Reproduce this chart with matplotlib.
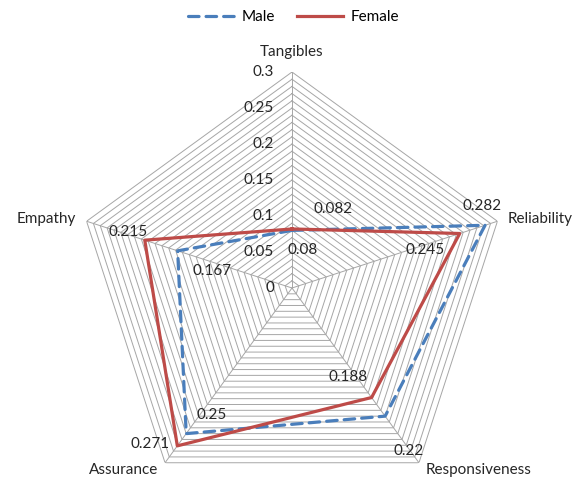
import numpy as np
import matplotlib
matplotlib.use("Agg")
import matplotlib.pyplot as plt

plt.rcParams["font.family"] = ["Lato", "DejaVu Sans"]

categories = ["Tangibles", "Reliability", "Responsiveness", "Assurance", "Empathy"]
male = [0.08, 0.282, 0.22, 0.25, 0.167]
female = [0.082, 0.245, 0.188, 0.271, 0.215]
scale_ticks = [0, 0.05, 0.1, 0.15, 0.2, 0.25, 0.3]
male_label_offsets = [(11, -20), (-3, 19), (24, -35), (25, 19), (34, -20)]
female_label_offsets = [(41, 20), (-35, -17), (-24, 21), (-27, 2), (-17, 8)]

BLUE = "#4a7ebb"
RED = "#be4b48"
GRID = "#a6a6a6"
TEXT = "#262626"
FS = 11

n = len(categories)
angles = np.arange(n) * 2 * np.pi / n
closed = np.append(angles, angles[0])

fig = plt.figure(figsize=(5.79, 4.83), dpi=100)
ax = fig.add_axes([76 / 579, -21 / 483, 432 / 579, 432 / 483], projection="polar")
ax.set_theta_zero_location("N")
ax.set_theta_direction(-1)
ax.set_ylim(0, 0.3)
ax.grid(False)
ax.set_xticks([])
ax.set_yticks([])
ax.spines["polar"].set_visible(False)
ax.patch.set_visible(False)

# pentagon gridlines every 0.01, plus spokes
for r in np.arange(0.01, 0.3001, 0.01):
    ax.plot(closed, [r] * (n + 1), color=GRID, lw=0.7, zorder=1)
for a in angles:
    ax.plot([a, a], [0, 0.3], color=GRID, lw=0.7, zorder=1)

ax.plot(closed, male + male[:1], color=BLUE, lw=2.3, dashes=(3.3, 2.2),
        dash_capstyle="round", label="Male", zorder=3)
ax.plot(closed, female + female[:1], color=RED, lw=2.3, label="Female", zorder=3)

for a, v, off in zip(angles, male, male_label_offsets):
    ax.annotate(f"{v:g}", xy=(a, v), xytext=off, textcoords="offset pixels",
                ha="center", va="center", fontsize=FS, color=TEXT)
for a, v, off in zip(angles, female, female_label_offsets):
    ax.annotate(f"{v:g}", xy=(a, v), xytext=off, textcoords="offset pixels",
                ha="center", va="center", fontsize=FS, color=TEXT)

for t in scale_ticks:
    ax.annotate(f"{t:g}", xy=(0, t), xytext=(-18, 0), textcoords="offset pixels",
                ha="right", va="center", fontsize=FS, color=TEXT)

# category names just outside the outer ring
cat_offsets = [(0, 20, "center", "center"), (10, 2, "left", "center"),
               (7, -7, "left", "center"), (-7, -7, "right", "center"),
               (-11, 2, "right", "center")]
for a, name, (dx, dy, ha, va) in zip(angles, categories, cat_offsets):
    ax.annotate(name, xy=(a, 0.3), xytext=(dx, dy), textcoords="offset pixels",
                ha=ha, va=va, fontsize=FS, color=TEXT)

fig.legend(loc="upper center", bbox_to_anchor=(0.507, 1.008), ncol=2,
           frameon=False, fontsize=FS, handlelength=3.0, columnspacing=1.4,
           handletextpad=0.5)

fig.savefig("out.png", dpi=100)
